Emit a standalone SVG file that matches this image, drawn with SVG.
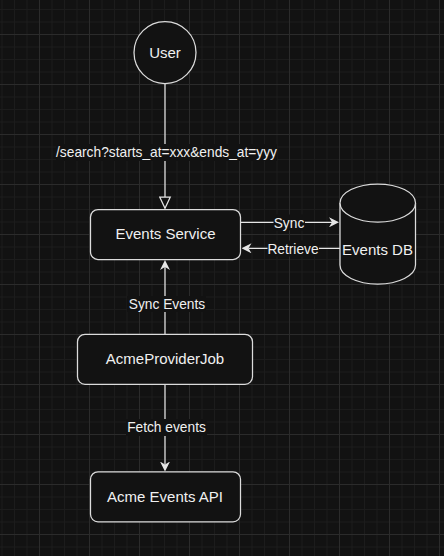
<svg xmlns="http://www.w3.org/2000/svg" width="444" height="556" viewBox="0 0 444 556">
<defs>
<pattern id="grid" patternUnits="userSpaceOnUse" x="39" y="34" width="50" height="50">
<rect width="50" height="50" fill="#121212"/>
<path d="M13 0V50M25.5 0V50M38 0V50M0 13H50M0 25.5H50M0 38H50" stroke="#1c1c1c" stroke-width="1"/>
<path d="M0.5 0V50M0 0.5H50" stroke="#2b2b2b" stroke-width="1"/>
</pattern>
<marker id="arrow" markerUnits="userSpaceOnUse" viewBox="0 0 10 10" refX="3" refY="5" markerWidth="10" markerHeight="10" orient="auto">
<path d="M0 0L10 5L0 10L3 5Z" fill="#e6e6e6"/>
</marker>
<marker id="open" markerUnits="userSpaceOnUse" viewBox="0 0 13 13" refX="0.7" refY="6.5" markerWidth="13" markerHeight="13" orient="auto">
<path d="M0.7 1.2L12 6.5L0.7 11.8Z" fill="#121212" stroke="#e6e6e6" stroke-width="1.25"/>
</marker>
</defs>
<style>
.node { fill:#121212; stroke:#dcdcdc; stroke-width:1.25 }
.edge { fill:none; stroke:#e6e6e6; stroke-width:1.25 }
.txt { font-family:"Liberation Sans", Arial, sans-serif; font-size:15px; fill:#f0f0f0; text-anchor:middle }
.el { font-size:13.75px }
.lbg { fill:#121212 }
</style>
<rect width="444" height="556" fill="url(#grid)"/>

<g id="connectors">
<path class="edge" d="M165 83.5V197" marker-end="url(#open)"/>
<path class="edge" d="M241 222.3H332" marker-end="url(#arrow)"/>
<path class="edge" d="M340 248.3H248.5" marker-end="url(#arrow)"/>
<path class="edge" d="M165 334V267" marker-end="url(#arrow)"/>
<path class="edge" d="M165 384.3V464.5" marker-end="url(#arrow)"/>
<rect class="lbg" x="56" y="144" width="221" height="17"/>
<text class="txt el" x="166.5" y="157.3">/search?starts_at=xxx&amp;ends_at=yyy</text>
<rect class="lbg" x="273.5" y="214.5" width="31.5" height="16"/>
<text class="txt el" x="289" y="227.5">Sync</text>
<rect class="lbg" x="267.5" y="240.5" width="51.5" height="16"/>
<text class="txt el" x="293" y="254">Retrieve</text>
<rect class="lbg" x="127" y="296" width="79" height="16"/>
<text class="txt el" x="167" y="309">Sync Events</text>
<rect class="lbg" x="126" y="419" width="81" height="17"/>
<text class="txt el" x="166.5" y="432">Fetch events</text>
</g>

<g id="user">
<circle class="node" cx="165" cy="52.5" r="31"/>
<text class="txt" x="165" y="58">User</text>
</g>

<g id="events-service">
<rect class="node" x="90.5" y="209.5" width="150" height="50" rx="7.5"/>
<text class="txt" x="165.5" y="239.3">Events Service</text>
</g>

<g id="events-db">
<path class="node" d="M340 203A37.75 19 0 0 1 415.5 203V265A37.75 19 0 0 1 340 265Z"/>
<path class="node" fill="none" d="M340 203A37.75 19 0 0 0 415.5 203"/>
<text class="txt" x="377.5" y="255">Events DB</text>
</g>

<g id="acme-provider-job">
<rect class="node" x="77.5" y="334.3" width="175" height="50" rx="7.5"/>
<text class="txt" x="165" y="364.3">AcmeProviderJob</text>
</g>

<g id="acme-events-api">
<rect class="node" x="90.5" y="471.8" width="150" height="50" rx="7.5"/>
<text class="txt" x="165" y="502.3">Acme Events API</text>
</g>
</svg>
